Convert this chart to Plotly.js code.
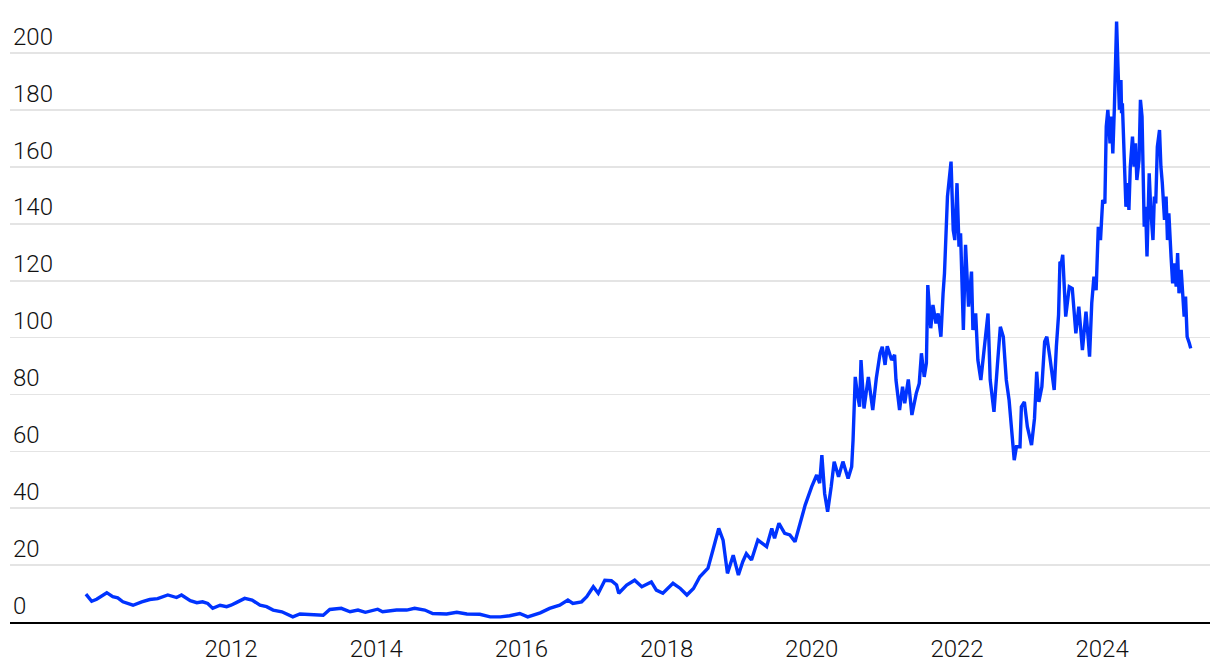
<!DOCTYPE html>
<html>
<head>
<meta charset="utf-8">
<script src="https://cdn.plot.ly/plotly-3.0.1.min.js"></script>
<style>
html,body{margin:0;padding:0;background:#fff;}
#chart{width:1220px;height:670px;}
</style>
</head>
<body>
<div id="chart"></div>
<script>
// Decimal-year time stamps and closing prices (USD)
const yearsEarly = [2010.00,2010.08,2010.15,2010.29,2010.37,2010.44,2010.51,2010.65,2010.77,2010.88,2010.99,
  2011.13,2011.25,2011.32,2011.44,2011.53,2011.61,2011.68,2011.75,2011.85,2011.94,
  2012.00,2012.08,2012.19,2012.29,2012.40,2012.49,2012.58,2012.70,2012.79,2012.85,2012.95,
  2013.09,2013.27,2013.36,2013.52,2013.64,2013.75,2013.85,
  2014.02,2014.09,2014.28,2014.42,2014.53,2014.67,2014.78,2014.97,
  2015.11,2015.25,2015.43,2015.57,2015.71,2015.84,2015.98,
  2016.09,2016.26,2016.39,2016.53,2016.64,2016.71,2016.83,2016.90,2016.99];
const pricesEarly = [9.8,7.3,8.0,10.3,8.9,8.5,7.1,5.9,7.1,7.9,8.2,
  9.5,8.6,9.5,7.5,6.8,7.1,6.5,4.8,5.9,5.4,
  5.9,6.9,8.3,7.7,5.9,5.4,4.2,3.6,2.4,1.8,2.8,
  2.7,2.4,4.4,4.8,3.6,4.2,3.4,
  4.5,3.6,4.2,4.2,4.8,4.2,3.0,2.8,
  3.4,2.8,2.7,1.8,1.8,2.2,3.0,
  1.8,3.2,4.8,5.9,7.7,6.5,7.1,8.9,12.4];

const yearsMid = [2017.06,2017.15,2017.24,2017.31,2017.34,2017.45,2017.56,2017.66,2017.79,2017.86,2017.95,
  2018.09,2018.19,2018.28,2018.37,2018.46,2018.57,2018.64,2018.72,2018.78,2018.84,2018.92,2018.99,
  2019.05,2019.10,2019.17,2019.26,2019.38,2019.45,2019.49,2019.55,2019.63,2019.70,2019.77,2019.86,2019.91,
  2020.00,2020.07,2020.11,2020.14,2020.18,2020.22,2020.27,2020.31,2020.37,2020.43,2020.50,2020.55,
  2020.57,2020.59,2020.60,2020.63,2020.66,2020.68,2020.72,2020.78,2020.84,2020.89,2020.94,2020.97];
const pricesMid = [10.1,14.7,14.5,13.0,10.1,13.0,14.7,12.4,14.1,11.2,10.1,
  13.6,11.8,9.5,11.8,15.9,18.9,25.3,32.9,28.8,17.1,23.5,16.5,
  21.2,24.0,21.8,28.8,26.5,32.9,29.4,34.7,31.2,30.6,28.2,35.8,41.1,
  47.6,51.7,48.8,58.7,45.2,38.8,47.6,56.4,51.1,56.4,50.5,54.6,
  64.0,78.1,86.2,80.0,75.7,92.1,75.1,86.2,74.5,85.7,94.5,96.8];

const yearsLate = [2021.01,2021.04,2021.10,2021.14,2021.16,2021.21,2021.25,2021.28,2021.33,2021.38,2021.44,2021.48,
  2021.51,2021.55,2021.58,2021.60,2021.64,2021.67,2021.71,2021.74,2021.78,2021.81,2021.83,2021.87,2021.89,
  2021.92,2021.95,2021.97,2022.00,2022.03,2022.05,2022.09,2022.12,2022.16,2022.20,2022.22,2022.26,2022.29,
  2022.33,2022.39,2022.43,2022.46,2022.51,2022.56,2022.60,2022.64,2022.68,2022.72,2022.75,2022.79,2022.82,
  2022.87,2022.89,2022.93,2022.97,2023.03,2023.07,2023.10,2023.13,2023.17,2023.21,2023.24,2023.28,2023.34,
  2023.37,2023.40,2023.42,2023.44,2023.46,2023.50,2023.55,2023.59,2023.64,2023.68,2023.73,2023.78,2023.81,
  2023.83,2023.86,2023.89,2023.92,2023.95,2023.98,2024.01,2024.04,2024.06,2024.08,2024.11,2024.13,2024.15,
  2024.17,2024.19,2024.20,2024.22,2024.24,2024.26,2024.27,2024.28,2024.30,2024.33,2024.35,2024.37,2024.39,
  2024.42,2024.44,2024.46,2024.48,2024.51,2024.53,2024.55,2024.58,2024.60,2024.62,2024.65,2024.67,2024.70,
  2024.72,2024.74,2024.76,2024.79,2024.81,2024.83,2024.86,2024.88,2024.90,2024.92,2024.95,2024.97,2024.99,
  2025.02,2025.04,2025.06,2025.09,2025.11,2025.13,2025.15,2025.17,2025.20,2025.22];
const pricesLate = [90.4,97.0,92.1,93.9,85.1,74.5,82.7,76.9,85.3,72.8,80.4,83.9,
  94.5,86.2,91.0,118.5,103.3,111.5,105.0,108.5,100.3,115.6,122.6,149.6,155.4,
  161.9,137.8,134.3,154.3,132.0,136.7,102.7,132.6,110.9,123.2,102.7,108.5,92.1,
  85.1,99.8,108.5,85.1,73.9,91.0,103.8,100.3,85.1,78.1,67.5,56.9,61.6,
  61.6,75.7,77.4,68.7,62.2,71.6,88.0,77.4,82.7,98.6,100.3,93.3,81.6,
  96.8,108.0,126.7,126.1,129.1,107.4,117.9,117.3,101.5,110.9,95.6,109.1,99.8,
  93.3,112.1,121.4,116.7,139.0,134.3,148.4,147.2,174.2,180.1,168.3,177.7,164.8,
  181.2,204.7,211.1,195.3,180.1,190.6,178.9,182.4,166.0,146.0,154.3,144.9,160.1,
  170.7,160.1,168.3,155.4,162.5,183.6,177.7,139.0,146.0,128.5,157.8,144.9,134.3,
  149.6,147.2,167.1,173.0,160.1,154.3,141.4,149.6,134.3,143.7,128.5,119.1,126.1,
  117.9,129.7,115.6,123.8,116.7,107.4,114.4,100.3,98.0,96.2];

const yTickVals = [0,20,40,60,80,100,120,140,160,180,200];
const yTickText = ['0','20','40','60','80','100','120','140','160','180','200'];
const xTickVals = ['2012-01-01','2014-01-01','2016-01-01','2018-01-01','2020-01-01','2022-01-01','2024-01-01'];
const xTickText = ['2012','2014','2016','2018','2020','2022','2024'];

function toDate(t){
  const y = Math.floor(t);
  const start = Date.UTC(y,0,1), end = Date.UTC(y+1,0,1);
  return new Date(start + (t - y) * (end - start)).toISOString().slice(0,10);
}

const x = yearsEarly.concat(yearsMid, yearsLate).map(toDate);
const y = pricesEarly.concat(pricesMid, pricesLate);

const trace = {
  x: x, y: y, type: 'scatter', mode: 'lines',
  line: {color: '#0033ff', width: 3.4, shape: 'linear'},
  hoverinfo: 'x+y'
};

const fam = 'Roboto, Inter, "Noto Sans", sans-serif';

const layout = {
  width: 1220, height: 670,
  margin: {l: 10, r: 10, t: 10, b: 48},
  paper_bgcolor: '#fff', plot_bgcolor: '#fff',
  showlegend: false,
  font: {family: fam, color: '#111', size: 24, weight: 300},
  xaxis: {
    type: 'date',
    range: ['2008-12-15', '2025-06-27'],
    tickmode: 'array', tickvals: xTickVals, ticktext: xTickText,
    showgrid: false, zeroline: false,
    showline: true, linecolor: '#000', linewidth: 2,
    ticks: '', ticklabelstandoff: 4,
    tickfont: {family: fam, size: 24, color: '#111', weight: 300}
  },
  yaxis: {
    range: [0, 215.2],
    tickmode: 'array', tickvals: yTickVals, ticktext: yTickText,
    showgrid: true, gridcolor: '#e4e4e4', gridwidth: 1.6,
    zeroline: false, showline: false, ticks: '',
    ticklabelposition: 'inside top',
    tickfont: {family: fam, size: 24, color: '#111', weight: 300}
  }
};

Plotly.newPlot('chart', [trace], layout, {displayModeBar: false, staticPlot: true});
</script>
</body>
</html>
